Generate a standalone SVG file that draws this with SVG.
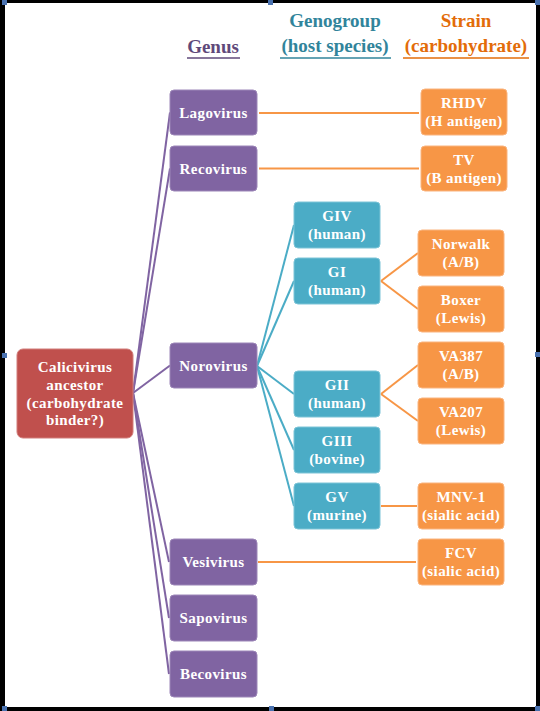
<svg xmlns="http://www.w3.org/2000/svg" width="540" height="711" viewBox="0 0 540 711">
<style>
text{font-weight:bold;text-anchor:middle}
.bt{fill:#fff;font-size:15px;letter-spacing:0.4px}
.hd{font-size:19px}
.gen rect{fill:#8064A2;stroke:#9C86B8;stroke-width:1}
.geno rect{fill:#4BACC6;stroke:#7CC4D7;stroke-width:1}
.str rect{fill:#F79646;stroke:#FAB47E;stroke-width:1}
.anc rect{fill:#C0504D;stroke:#D17D7B;stroke-width:1}
.cp line{stroke:#8064A2;stroke-width:2}
.ct line{stroke:#4BACC6;stroke-width:2}
.co line{stroke:#F79646;stroke-width:2}
.hdl{fill:#4A72B0}
</style>
<rect x="0" y="0" width="540" height="711" fill="#fff"/>
<rect x="0" y="0" width="540" height="3" fill="#000"/>
<rect x="0" y="0" width="5" height="711" fill="#000"/>
<rect x="536" y="0" width="4" height="711" fill="#000"/>
<rect x="0" y="707" width="540" height="4" fill="#000"/>
<g id="handles">
<rect class="hdl" x="2" y="0" width="5" height="5"/>
<rect class="hdl" x="268" y="0" width="5" height="5"/>
<rect class="hdl" x="535" y="0" width="5" height="5"/>
<rect class="hdl" x="2" y="353" width="5" height="5"/>
<rect class="hdl" x="535" y="352" width="5" height="5"/>
<rect class="hdl" x="2" y="706" width="5" height="5"/>
<rect class="hdl" x="269" y="706" width="5" height="5"/>
<rect class="hdl" x="535" y="706" width="5" height="5"/>
</g>
<g font-family="'Liberation Serif', 'DejaVu Serif', serif">
<g id="headings">
<text class="hd" x="213" y="53" fill="#5F497A">Genus</text>
<line x1="187" y1="58" x2="240" y2="58" stroke="#5F497A" stroke-width="1.5"/>
<text class="hd" x="335" y="27" fill="#31849B">Genogroup</text>
<text class="hd" x="335" y="52" fill="#31849B">(host species)</text>
<line x1="280" y1="58" x2="391" y2="58" stroke="#31849B" stroke-width="1.5"/>
<text class="hd" x="466" y="27" fill="#E36C09">Strain</text>
<text class="hd" x="466" y="52" fill="#E36C09">(carbohydrate)</text>
<line x1="403" y1="58" x2="529" y2="58" stroke="#E36C09" stroke-width="1.5"/>
</g>
<g id="connectors">
<g class="cp">
<line x1="133" y1="393" x2="170" y2="112.5"/>
<line x1="133" y1="393" x2="170" y2="168.5"/>
<line x1="133" y1="393" x2="170" y2="365.5"/>
<line x1="133" y1="393" x2="169" y2="562"/>
<line x1="133" y1="393" x2="169" y2="618"/>
<line x1="133" y1="393" x2="169" y2="674"/>
</g>
<g class="ct">
<line x1="257" y1="366" x2="294" y2="225"/>
<line x1="257" y1="366" x2="294" y2="281"/>
<line x1="257" y1="366" x2="294" y2="394"/>
<line x1="257" y1="366" x2="294" y2="450"/>
<line x1="257" y1="366" x2="294" y2="506"/>
</g>
<g class="co">
<line x1="259" y1="113" x2="419" y2="113"/>
<line x1="259" y1="168.5" x2="419" y2="168.5"/>
<line x1="381" y1="281" x2="418" y2="253"/>
<line x1="381" y1="281" x2="418" y2="309"/>
<line x1="381" y1="394" x2="418" y2="365"/>
<line x1="381" y1="394" x2="418" y2="421"/>
<line x1="381" y1="506" x2="417" y2="506"/>
<line x1="258" y1="562" x2="416" y2="562"/>
</g>
</g>
<g id="ancestor" class="anc">
<rect x="17" y="349" width="116" height="89" rx="6"/>
<text class="bt" x="75" y="372">Calicivirus</text>
<text class="bt" x="75" y="390">ancestor</text>
<text class="bt" x="75" y="408">(carbohydrate</text>
<text class="bt" x="75" y="425">binder?)</text>
</g>
<g id="lagovirus" class="gen"><rect x="170" y="90" width="87" height="45" rx="4"/><text class="bt" x="213.5" y="117.5">Lagovirus</text></g>
<g id="recovirus" class="gen"><rect x="170" y="146" width="87" height="45" rx="4"/><text class="bt" x="213.5" y="173.5">Recovirus</text></g>
<g id="norovirus" class="gen"><rect x="170" y="343" width="87" height="45" rx="4"/><text class="bt" x="213.5" y="370.5">Norovirus</text></g>
<g id="vesivirus" class="gen"><rect x="170" y="539" width="87" height="46" rx="4"/><text class="bt" x="213.5" y="567">Vesivirus</text></g>
<g id="sapovirus" class="gen"><rect x="170" y="595" width="87" height="46" rx="4"/><text class="bt" x="213.5" y="623">Sapovirus</text></g>
<g id="becovirus" class="gen"><rect x="170" y="651" width="87" height="46" rx="4"/><text class="bt" x="213.5" y="679">Becovirus</text></g>
<g id="giv" class="geno"><rect x="294" y="202" width="86" height="46" rx="4"/><text class="bt" x="337" y="221">GIV</text><text class="bt" x="337" y="239">(human)</text></g>
<g id="gi" class="geno"><rect x="294" y="258" width="86" height="46" rx="4"/><text class="bt" x="337" y="277">GI</text><text class="bt" x="337" y="295">(human)</text></g>
<g id="gii" class="geno"><rect x="294" y="371" width="86" height="46" rx="4"/><text class="bt" x="337" y="390">GII</text><text class="bt" x="337" y="408">(human)</text></g>
<g id="giii" class="geno"><rect x="294" y="427" width="86" height="46" rx="4"/><text class="bt" x="337" y="446">GIII</text><text class="bt" x="337" y="464">(bovine)</text></g>
<g id="gv" class="geno"><rect x="294" y="483" width="86" height="46" rx="4"/><text class="bt" x="337" y="502">GV</text><text class="bt" x="337" y="520">(murine)</text></g>
<g id="rhdv" class="str"><rect x="421" y="89" width="86" height="46" rx="4"/><text class="bt" x="464" y="108">RHDV</text><text class="bt" x="464" y="126">(H antigen)</text></g>
<g id="tv" class="str"><rect x="421" y="146" width="86" height="45" rx="4"/><text class="bt" x="464" y="164.5">TV</text><text class="bt" x="464" y="182.5">(B antigen)</text></g>
<g id="norwalk" class="str"><rect x="418" y="230" width="86" height="46" rx="4"/><text class="bt" x="461" y="249">Norwalk</text><text class="bt" x="461" y="267">(A/B)</text></g>
<g id="boxer" class="str"><rect x="418" y="286" width="86" height="46" rx="4"/><text class="bt" x="461" y="305">Boxer</text><text class="bt" x="461" y="323">(Lewis)</text></g>
<g id="va387" class="str"><rect x="418" y="342" width="86" height="46" rx="4"/><text class="bt" x="461" y="361">VA387</text><text class="bt" x="461" y="379">(A/B)</text></g>
<g id="va207" class="str"><rect x="418" y="398" width="86" height="46" rx="4"/><text class="bt" x="461" y="417">VA207</text><text class="bt" x="461" y="435">(Lewis)</text></g>
<g id="mnv1" class="str"><rect x="418" y="483" width="86" height="46" rx="4"/><text class="bt" x="461" y="502">MNV-1</text><text class="bt" x="461" y="520">(sialic acid)</text></g>
<g id="fcv" class="str"><rect x="418" y="539" width="86" height="46" rx="4"/><text class="bt" x="461" y="558">FCV</text><text class="bt" x="461" y="576">(sialic acid)</text></g>
</g>
</svg>
